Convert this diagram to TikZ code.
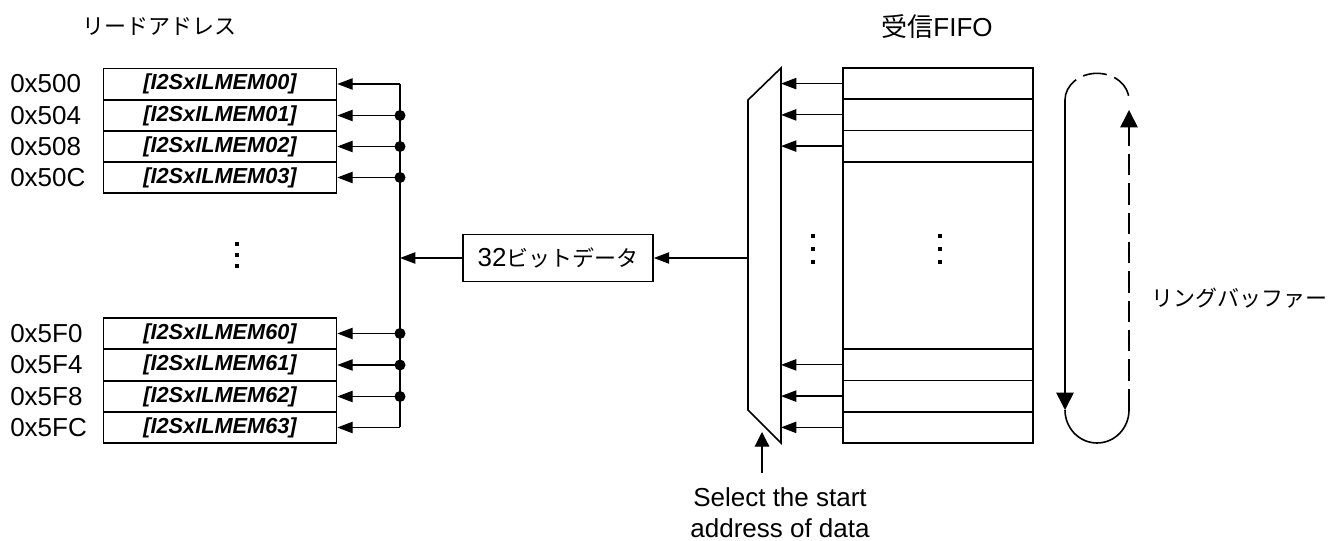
\documentclass[tikz,border=0pt]{standalone}
\usepackage{fontspec}
\setmainfont{Liberation Sans}
\newfontfamily\jp{Noto Sans CJK JP}
\usetikzlibrary{arrows.meta}

\begin{document}
\begin{tikzpicture}[x=0.75pt,y=-0.75pt,
  font=\fontsize{19.5}{23.4}\selectfont,
  reg/.style={draw,line width=1.2pt,minimum width=174.75pt,minimum height=23.4pt,inner sep=0pt,
    font=\fontsize{16.3}{18}\selectfont\bfseries\itshape},
  addr/.style={anchor=west,inner sep=0pt},
  fifo/.style={draw,line width=1.2pt,minimum width=142.5pt,minimum height=23.4pt,inner sep=0pt},
  kana/.style={font=\jp\fontsize{16.5}{20}\selectfont},
  ln/.style={line width=0.9pt},
  arr/.style={line width=0.9pt,-{Triangle[length=11.5pt,width=8.5pt]}},
  ringarr/.style={line width=1.2pt,-{Triangle[length=13pt,width=13pt]}}]
  \useasboundingbox (0,0) rectangle (1335,541);

  % titles
  \node[kana] (rdtitle) at (159,27) {リードアドレス};
  \node (rxtitle) at (937,27) {{\jp 受信}FIFO};

  % read registers and their addresses
  \foreach \n/\ad/\y in {00/500/84,01/504/115.5,02/508/146.5,03/50C/177.5,
                         60/5F0/333.5,61/5F4/365,62/5F8/396.5,63/5FC/427.5} {
    \node[reg] (m\n) at (220,\y) {[I2SxILMEM\n]};
    \node[addr] (a\n) at (10,\y) {0x\ad};
    \coordinate (b\n) at (400,\y);
    \draw[arr] (b\n) -- (m\n.east);
  }
  \foreach \y in {244,255,266} {
    \fill (235,\y-2) rectangle ++(4,4);
  }

  % bus
  \draw[ln] (b00) -- (b63);
  \foreach \n in {01,02,03,60,61,62} {
    \fill (b\n) circle (5.5);
  }

  % 32-bit data
  \node[draw,line width=1.2pt,minimum width=142.5pt,minimum height=35.25pt,inner sep=0pt] (data)
    at (558,258) {32{\jp\fontsize{16.5}{20}\selectfont ビットデータ}};
  \coordinate (bd) at (400,258);
  \draw[arr] (data.west) -- (bd);

  % selector
  \coordinate (mxl) at (748,258);
  \coordinate (mxr) at (781,0);
  \draw[line width=1.2pt] (748,100) -- (781,68) -- (781,443) -- (748,410) -- cycle;
  \draw[arr] (mxl) -- (data.east);

  % receive FIFO
  \foreach \n/\y in {1/83.6,2/114.9,3/146.1,4/364.9,5/396.1,6/427.4} {
    \node[fifo] (f\n) at (938,\y) {};
    \draw[arr] (f\n.west) -- (f\n.west -| mxr);
  }
  \node[fifo,minimum height=140.5pt] (fm) at (938,255.5) {};
  \foreach \x in {811,938} {
    \foreach \y in {236,249,262} {
      \fill (\x,\y-2) rectangle ++(4,4);
    }
  }

  % ring buffer
  \draw[ringarr] (1065,100) -- (1065,410);
  \draw[line width=1.2pt] (1065,410) arc[start angle=180,end angle=360,x radius=24pt,y radius=24.75pt];
  \draw[line width=1.2pt,dash pattern=on 18pt off 6pt] (1065,100) arc[start angle=180,end angle=0,x radius=24pt,y radius=20pt];
  \draw[ringarr,dash pattern=on 16pt off 6pt] (1129,410) -- (1129,110);
  \node[kana,anchor=west] (ring) at (1147,298) {リングバッファー};

  % start address select
  \node[align=center] (sel) at (780,513) {Select the start\\address of data};
  \coordinate (seltail) at (762,473);
  \coordinate (seltip) at (762,432);
  \draw[line width=0.9pt,-{Triangle[length=11pt,width=11pt]}] (seltail) -- (seltip);
\end{tikzpicture}
\end{document}
